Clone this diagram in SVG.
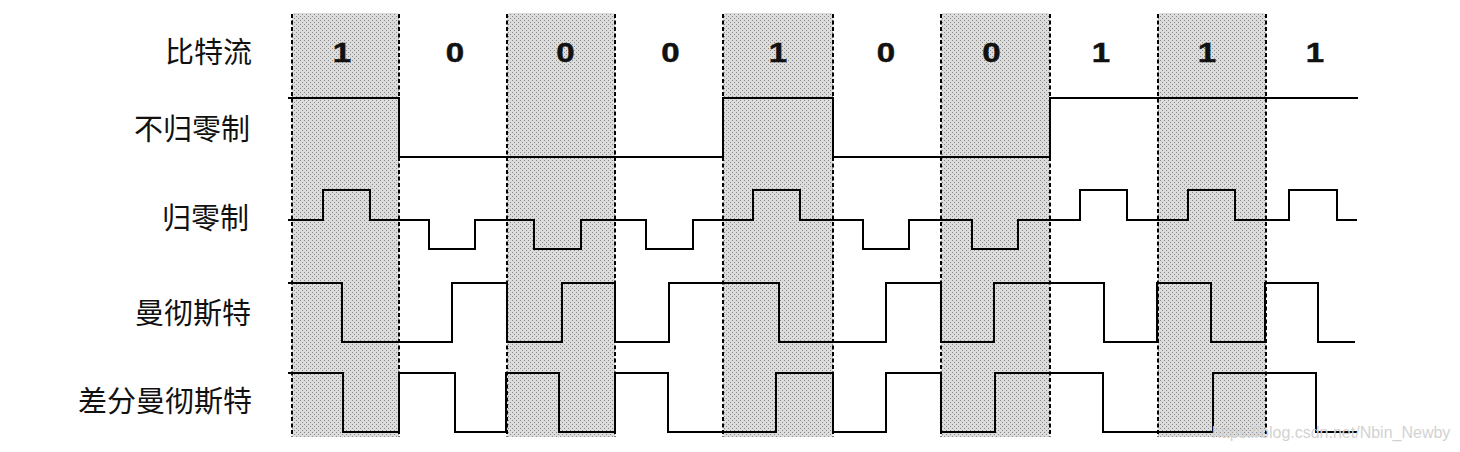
<svg xmlns="http://www.w3.org/2000/svg" width="1460" height="452" viewBox="0 0 1460 452">
<style>
.lbl{font-family:"Noto Sans CJK SC","Noto Sans",sans-serif;font-size:29px;fill:#111;text-anchor:end}
.bit{font-family:"Liberation Sans",Arial,sans-serif;font-size:28px;font-weight:bold;fill:#111;stroke:#111;stroke-width:0.5;text-anchor:middle}
.col{fill:url(#stip)}
.dash{stroke:#000;stroke-width:2;stroke-dasharray:4 2.5;fill:none}
.sig{stroke:#000;stroke-width:2;fill:none;stroke-linejoin:miter}
.wm{font-family:"Liberation Sans",Arial,sans-serif;font-size:16px;fill:#d2d2d2}
</style>
<defs>
<pattern id="stip" width="4" height="4" patternUnits="userSpaceOnUse">
<rect width="4" height="4" fill="#dcdcdc"/>
<rect x="0" y="0" width="1" height="1" fill="#8a8a8a"/>
<rect x="2" y="2" width="1" height="1" fill="#8a8a8a"/>
</pattern>
</defs>
<rect width="1460" height="452" fill="#fff"/>
<g id="columns">
<rect class="col" x="292" y="13" width="107" height="424" rx="3"/>
<rect class="col" x="507" y="13" width="108" height="424" rx="3"/>
<rect class="col" x="723" y="13" width="110" height="424" rx="3"/>
<rect class="col" x="941" y="13" width="109" height="424" rx="3"/>
<rect class="col" x="1158" y="13" width="108" height="424" rx="3"/>
</g>
<g id="gridlines">
<path class="dash" d="M292,14V437M399,14V437M507,14V437M615,14V437M723,14V437M833,14V437M941,14V437M1050,14V437M1158,14V437M1266,14V437"/>
</g>
<g id="labels">
<text class="lbl" x="252" y="63">比特流</text>
<text class="lbl" x="250" y="140">不归零制</text>
<text class="lbl" x="249" y="229">归零制</text>
<text class="lbl" x="251" y="324">曼彻斯特</text>
<text class="lbl" x="252" y="412">差分曼彻斯特</text>
</g>
<g id="bits">
<text class="bit" transform="translate(342,62) scale(1.18,1)">1</text>
<text class="bit" transform="translate(455,62) scale(1.18,1)">0</text>
<text class="bit" transform="translate(565.5,62) scale(1.18,1)">0</text>
<text class="bit" transform="translate(670.5,62) scale(1.18,1)">0</text>
<text class="bit" transform="translate(778,62) scale(1.18,1)">1</text>
<text class="bit" transform="translate(886,62) scale(1.18,1)">0</text>
<text class="bit" transform="translate(991.5,62) scale(1.18,1)">0</text>
<text class="bit" transform="translate(1101,62) scale(1.18,1)">1</text>
<text class="bit" transform="translate(1207,62) scale(1.18,1)">1</text>
<text class="bit" transform="translate(1315,62) scale(1.18,1)">1</text>
</g>
<g id="signals">
<path id="nrz" class="sig" d="M288,98H399V157H723V98H833V157H1050V98H1358"/>
<path id="rz" class="sig" d="M288,220H323V190H370V220H429V249H475V220H534V249H581V220H646V249H693V220H753V190H800V220H863V249H909V220H972V249H1018V220H1080V190H1127V220H1188V190H1235V220H1289V190H1337V220H1357"/>
<path id="manchester" class="sig" d="M288,283H342V342H452V283H507V342H562V283H615V342H669V283H779V342H886V283H941V342H994V283H1104V342H1157V283H1211V342H1265V283H1318V342H1355"/>
<path id="diffmanchester" class="sig" d="M288,373H343V432H399V373H455V432H506V373H559V432H615V373H668V432H776V373H833V432H886V373H941V432H995V373H1103V432H1213V373H1316V432H1357"/>
</g>
<text class="wm" x="1212" y="438">https://blog.csdn.net/Nbin_Newby</text>
</svg>
